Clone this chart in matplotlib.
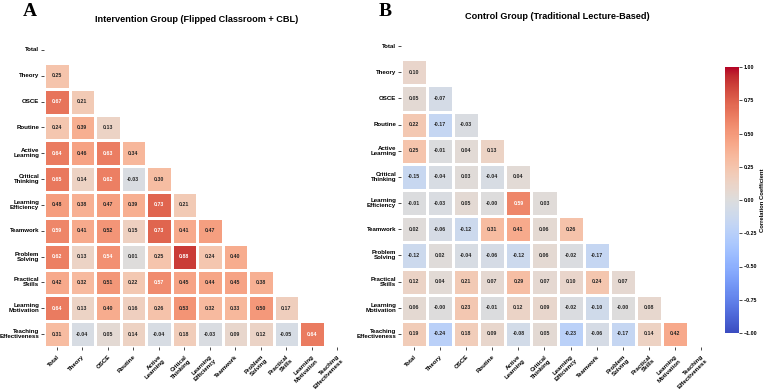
import numpy as np
import matplotlib
matplotlib.use("Agg")
import matplotlib.pyplot as plt
import seaborn as sns

plt.rcParams['font.family'] = ['Liberation Sans', 'DejaVu Sans']

# -----------------------------
# DATA (lower triangle, row by row)
# -----------------------------
variable_names = ["Total", "Theory", "OSCE", "Routine", "Active\nLearning",
                  "Critical\nThinking", "Learning\nEfficiency", "Teamwork",
                  "Problem\nSolving", "Practical\nSkills", "Learning\nMotivation",
                  "Teaching\nEffectiveness"]

intervention_rows = [
    [0.25],
    [0.67, 0.21],
    [0.24, 0.39, 0.13],
    [0.64, 0.46, 0.63, 0.34],
    [0.65, 0.14, 0.62, -0.03, 0.30],
    [0.48, 0.38, 0.47, 0.39, 0.73, 0.21],
    [0.59, 0.41, 0.52, 0.15, 0.73, 0.41, 0.47],
    [0.62, 0.13, 0.54, 0.01, 0.25, 0.88, 0.24, 0.40],
    [0.42, 0.32, 0.51, 0.22, 0.57, 0.45, 0.44, 0.45, 0.38],
    [0.64, 0.13, 0.40, 0.16, 0.26, 0.53, 0.32, 0.33, 0.50, 0.17],
    [0.31, -0.04, 0.05, 0.14, -0.04, 0.18, -0.03, 0.09, 0.12, -0.05, 0.64],
]

control_rows = [
    [0.10],
    [0.05, -0.07],
    [0.22, -0.17, -0.03],
    [0.25, -0.01, 0.04, 0.13],
    [-0.15, -0.04, 0.03, -0.04, 0.04],
    [-0.01, -0.03, 0.05, -0.00, 0.59, 0.03],
    [0.02, -0.06, -0.12, 0.31, 0.41, 0.06, 0.26],
    [-0.12, 0.02, -0.04, -0.06, -0.12, 0.06, -0.02, -0.17],
    [0.12, 0.04, 0.21, 0.07, 0.29, 0.07, 0.10, 0.24, 0.07],
    [0.06, -0.00, 0.23, -0.01, 0.12, 0.09, -0.02, -0.10, -0.00, 0.08],
    [0.19, -0.24, 0.18, 0.09, -0.08, 0.05, -0.23, -0.06, -0.17, 0.14, 0.42],
]


def build_matrix(rows):
    n = len(variable_names)
    m = np.eye(n)
    for i, row in enumerate(rows, start=1):
        for j, v in enumerate(row):
            m[i, j] = v
            m[j, i] = v
    return m


mask = np.triu(np.ones((len(variable_names), len(variable_names)), dtype=bool))

# -----------------------------
# FIGURE
# -----------------------------
fig = plt.figure(figsize=(7.67, 3.89), dpi=100)
ax_a = fig.add_axes([44 / 767, 1 - 347 / 389, 306 / 767, 310 / 389])
ax_b = fig.add_axes([401 / 767, 1 - 347 / 389, 313 / 767, 314 / 389])
cbar_ax = fig.add_axes([725 / 767, 1 - 333 / 389, 14 / 767, 266 / 389])

panels = [
    (ax_a, intervention_rows, "Intervention Group (Flipped Classroom + CBL)", False, 11),
    (ax_b, control_rows, "Control Group (Traditional Lecture-Based)", True, 10),
]

for ax, rows, title, show_cbar, title_pad in panels:
    sns.heatmap(build_matrix(rows), mask=mask, ax=ax, cmap="coolwarm",
                vmin=-1, vmax=1, center=0, annot=True, fmt=".2f",
                annot_kws={"size": 3.8, "weight": "bold"},
                linewidths=0.8, linecolor="white",
                cbar=show_cbar, cbar_ax=cbar_ax if show_cbar else None,
                xticklabels=variable_names, yticklabels=variable_names)
    ax.set_xticklabels(variable_names, rotation=45, ha="right",
                       rotation_mode="anchor", fontsize=4.4, fontweight="bold")
    ax.set_yticklabels(variable_names, rotation=0, fontsize=4.4,
                       fontweight="bold", linespacing=1.0)
    ax.tick_params(length=2, width=0.5, pad=1.5)
    ax.tick_params(axis="x", pad=3)
    ax.set_title(title, fontsize=6.6, fontweight="bold", pad=title_pad)

cbar_ax.tick_params(labelsize=3.8, length=2, width=0.5, pad=1.5)
cbar_ax.set_ylabel("Correlation Coefficient", fontsize=4.2, fontweight="bold",
                   labelpad=2)
for lbl in cbar_ax.get_yticklabels():
    lbl.set_fontweight("bold")

fig.text(30 / 767, 1 - 11 / 389, "A", fontsize=14, fontweight="bold",
         family="Liberation Serif", ha="center", va="center")
fig.text(385 / 767, 1 - 11 / 389, "B", fontsize=14, fontweight="bold",
         family="Liberation Serif", ha="center", va="center")

fig.savefig("out.png", dpi=100)
